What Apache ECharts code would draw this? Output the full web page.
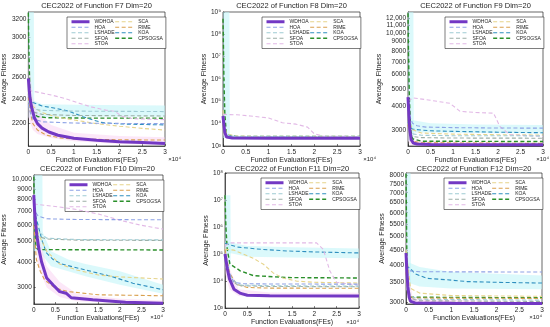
<!DOCTYPE html>
<html><head><meta charset="utf-8">
<script src="https://cdn.jsdelivr.net/npm/echarts@6/dist/echarts.min.js"></script>
<style>html,body{margin:0;padding:0;background:#fff}#c{width:550px;height:327px}</style>
</head><body><div id="c"></div>
<script>
// ---------------- data ----------------
const algorithms = ['WDHOA','HOA','LSHADE','SFOA','STOA','SCA','RIME','KOA','CPSOGSA'];
const titles = ['CEC2022 of Function F7 Dim=20','CEC2022 of Function F8 Dim=20','CEC2022 of Function F9 Dim=20',
                'CEC2022 of Function F10 Dim=20','CEC2022 of Function F11 Dim=20','CEC2022 of Function F12 Dim=20'];
const xTicks = [0,0.5,1,1.5,2,2.5,3];           // x in units of 1e4 FEs
const f7Ticks  = [2200,2400,2600,2800,3000,3200];
const f8Ticks  = [1e3,1e4,1e5,1e6,1e7,1e8,1e9];
const f9Ticks  = [3000,4000,5000,6000,7000,8000,9000,10000,11000,12000];
const f10Ticks = [3000,4000,5000,6000,7000,8000,9000,10000];
const f11Ticks = [1e3,1e4,1e5,1e6,1e7,1e8];
const f12Ticks = [3000,3500,4000,4500,5000,5500,6000,6500,7000,7500,8000];

const f7 = {
  WDHOA:  [[0,2590],[0.02,2480],[0.04,2400],[0.08,2320],[0.13,2250],[0.2,2200],[0.3,2165],[0.45,2135],[0.65,2110],[1,2088],[1.5,2072],[2,2062],[2.5,2055],[3,2048]],
  HOA:    [[0,2360],[0.05,2280],[0.1,2240],[0.3,2215],[1,2205],[2,2202],[3,2200]],
  LSHADE: [[0,2390],[0.05,2340],[0.1,2320],[0.3,2308],[1,2302],[3,2298]],
  SFOA:   [[0,2450],[0.05,2330],[0.1,2295],[0.3,2275],[1,2266],[3,2262]],
  STOA:   [[0,2480],[0.2,2465],[0.5,2440],[0.8,2410],[1.1,2370],[1.4,2335],[1.7,2310],[1.9,2300],[2.05,2260],[2.3,2240],[3,2232]],
  SCA:    [[0,2520],[0.05,2400],[0.1,2340],[0.3,2290],[0.6,2255],[1,2230],[1.5,2200],[2,2180],[2.5,2163],[3,2150]],
  RIME:   [[0,2420],[0.05,2280],[0.1,2200],[0.2,2150],[0.4,2110],[0.7,2090],[1,2082],[2,2076],[3,2074]],
  KOA:    [[0,2420],[0.1,2375],[0.3,2345],[0.6,2325],[0.9,2300],[1.2,2255],[1.6,2210],[2,2198],[3,2190]],
  CPSOGSA:[[0,3280],[0.01,2900],[0.03,2520],[0.06,2350],[0.1,2290],[0.2,2258],[0.4,2248],[1,2245],[3,2244]]
};
const f7Bands = [
  ['cyan', [[0,2250,3290],[0.12,2250,3290],[0.13,2300,2300]]],
  ['cyan', [[0.05,2240,2400],[0.3,2250,2360],[1,2255,2355],[3,2255,2350]]],
  ['pink', [[0,2250,2900],[0.05,2200,2600],[0.1,2150,2420],[0.2,2120,2290],[0.5,2090,2190],[1,2065,2130],[2,2045,2105],[3,2040,2095]]]
];

const f8 = {
  WDHOA:  [[0,22000],[0.02,9000],[0.04,4000],[0.08,2500],[0.2,2290],[1,2250],[3,2230]],
  HOA:    [[0,15000],[0.03,4500],[0.08,2700],[0.3,2500],[3,2460]],
  LSHADE: [[0,12000],[0.03,5000],[0.08,3000],[0.3,2600],[3,2520]],
  SFOA:   [[0,9000],[0.03,4000],[0.08,2700],[0.3,2450],[3,2400]],
  STOA:   [[0,26000],[0.3,25000],[0.6,22000],[1,18000],[1.3,11000],[1.6,9500],[1.85,7000],[2.0,3500],[2.2,2750],[3,2650]],
  SCA:    [[0,40000],[0.03,8000],[0.08,3500],[0.3,2750],[1,2600],[3,2550]],
  RIME:   [[0,10000],[0.03,3500],[0.08,2500],[0.3,2380],[3,2350]],
  KOA:    [[0,20000],[0.03,6000],[0.08,3200],[0.3,2650],[3,2580]],
  CPSOGSA:[[0,5e8],[0.01,3e7],[0.02,1e6],[0.04,3e4],[0.07,4000],[0.12,2800],[0.3,2700],[3,2680]]
};
const f8Bands = [
  ['cyan', [[0,2300,1e9],[0.14,2300,1e9],[0.15,2300,2300]]],
  ['pink', [[0,3000,60000],[0.03,2500,15000],[0.08,2250,3000],[0.3,2220,2350],[3,2200,2300]]]
];

const f9 = {
  WDHOA:  [[0,4500],[0.02,3600],[0.04,3000],[0.07,2650],[0.12,2540],[0.2,2510],[0.5,2495],[3,2490]],
  HOA:    [[0,3900],[0.05,3500],[0.1,3250],[0.2,3150],[0.4,3100],[1,3080],[2,3065],[3,3060]],
  LSHADE: [[0,3300],[0.05,2950],[0.1,2850],[0.3,2800],[1,2785],[3,2780]],
  SFOA:   [[0,3400],[0.05,2900],[0.1,2760],[0.3,2720],[1,2705],[3,2700]],
  STOA:   [[0,4300],[0.12,4460],[0.5,4330],[0.93,4170],[1.16,3770],[1.5,3720],[1.9,3690],[2.04,3130],[2.26,2820],[3,2760]],
  SCA:    [[0,3800],[0.05,3200],[0.1,3000],[0.3,2880],[1,2840],[2,2820],[3,2810]],
  RIME:   [[0,3200],[0.05,2750],[0.1,2600],[0.3,2550],[3,2530]],
  KOA:    [[0,3300],[0.05,3100],[0.1,3020],[0.5,2960],[1,2940],[2,2910],[3,2890]],
  CPSOGSA:[[0,12800],[0.01,8000],[0.03,4500],[0.06,3000],[0.1,2680],[0.3,2600],[3,2590]]
};
const f9Bands = [
  ['cyan', [[0,2600,13000],[0.12,2600,13000],[0.13,2700,2700]]],
  ['cyan', [[0.05,2900,3400],[0.5,2900,3250],[1.5,2880,3200],[3,2860,3180]]],
  ['pink', [[0,2600,5500],[0.05,2500,3400],[0.12,2470,2620],[3,2460,2530]]]
];

const f10 = {
  WDHOA:  [[0,8400],[0.02,7000],[0.04,6200],[0.07,5380],[0.12,4600],[0.18,4000],[0.3,3335],[0.45,3090],[0.6,2870],[0.75,2820],[0.87,2680],[1.37,2620],[2.13,2550],[3,2520]],
  HOA:    [[0,7400],[0.05,6900],[0.1,6650],[0.3,6450],[1,6400],[3,6380]],
  LSHADE: [[0,6800],[0.05,6000],[0.1,5600],[0.3,5200],[1,5120],[3,5100]],
  SFOA:   [[0,6300],[0.05,5600],[0.1,5300],[0.3,5150],[1,5090],[3,5070]],
  STOA:   [[0,7600],[0.5,7400],[1,7150],[1.5,6800],[2,6350],[2.5,6000],[3,5750]],
  SCA:    [[0,7000],[0.1,5500],[0.3,4500],[0.6,3900],[1,3650],[1.5,3450],[2,3380],[3,3300]],
  RIME:   [[0,6000],[0.06,4100],[0.15,3600],[0.25,3270],[0.5,2980],[0.8,2870],[1.5,2770],[3,2740]],
  KOA:    [[0,7200],[0.1,6000],[0.2,5000],[0.3,4400],[0.45,4100],[0.65,3900],[1.2,3650],[1.8,3400],[2.3,3150],[3,2930]],
  CPSOGSA:[[0,10300],[0.02,6000],[0.05,4700],[0.1,4580],[3,4560]]
};
const f10Bands = [
  ['cyan', [[0,4500,10500],[0.2,4500,10500],[0.21,4600,4600]]],
  ['cyan', [[0.2,4300,5600],[0.4,3800,4500],[0.8,3600,4100],[1.2,3400,3900],[2,3100,3600],[3,2800,3100]]],
  ['pink', [[0,6500,9000],[0.1,3800,5500],[0.3,3000,3800],[0.6,2700,3200],[1,2580,2800],[2,2520,2650],[3,2500,2600]]]
];

const f11 = {
  WDHOA:  [[0,1e5],[0.05,3e4],[0.1,1.2e4],[0.2,5000],[0.35,3500],[0.5,3000],[1,2850],[3,2800]],
  HOA:    [[0,1e5],[0.1,2e4],[0.2,9000],[0.4,8000],[1,7800],[3,7700]],
  LSHADE: [[0,8e4],[0.1,1.6e4],[0.3,7200],[1,6700],[3,6500]],
  SFOA:   [[0,6e4],[0.1,1.2e4],[0.3,6800],[1,6300],[3,6200]],
  STOA:   [[0,2e5],[0.1,2.6e5],[1,2.6e5],[2.05,2.6e5],[2.2,1.5e5],[2.35,2.3e4],[2.5,9000],[3,7000]],
  SCA:    [[0,1.5e5],[0.2,1.4e5],[0.35,1.1e5],[0.63,7e4],[0.86,4.2e4],[1.08,2e4],[1.3,1.3e4],[1.6,1e4],[2,9000],[3,8500]],
  RIME:   [[0,1.5e5],[0.1,2e4],[0.26,7600],[0.5,5800],[1,5500],[3,5400]],
  KOA:    [[0,2.5e5],[0.1,2.2e5],[0.3,1.8e5],[0.8,1.5e5],[1.4,1.3e5],[2,1.2e5],[3,1.1e5]],
  CPSOGSA:[[0,1.5e7],[0.02,1e6],[0.05,1.5e5],[0.11,4.3e4],[0.34,2.4e4],[0.63,1.6e4],[1.4,1.35e4],[3,1.3e4]]
};
const f11Bands = [
  ['cyan', [[0,3e4,1.5e7],[0.12,3e4,1.5e7],[0.13,1e5,1e5]]],
  ['cyan', [[0,1.2e5,3e5],[0.5,8e4,2e5],[1.5,7.5e4,1.8e5],[3,7e4,1.6e5]]],
  ['pink', [[0,2e4,3e5],[0.1,5000,3e4],[0.3,2800,5000],[1,2400,3800],[3,2400,3700]]]
];

const f12 = {
  WDHOA:  [[0,4400],[0.02,3800],[0.04,3400],[0.07,3130],[0.1,3030],[0.2,2995],[1,2985],[3,2980]],
  HOA:    [[0,4000],[0.05,3900],[0.1,3830],[0.3,3810],[1,3805],[3,3800]],
  LSHADE: [[0,4200],[0.05,3400],[0.1,3150],[0.3,3080],[3,3060]],
  SFOA:   [[0,4100],[0.05,3300],[0.1,3100],[0.3,3045],[3,3030]],
  STOA:   [[0,3900],[0.05,3300],[0.1,3080],[0.3,3020],[3,3005]],
  SCA:    [[0,4500],[0.1,3350],[0.3,3230],[1,3170],[3,3150]],
  RIME:   [[0,3800],[0.05,3200],[0.15,3110],[3,3100]],
  KOA:    [[0,4000],[0.1,3900],[0.2,3750],[0.46,3620],[1,3570],[1.35,3530],[2,3510],[3,3490]],
  CPSOGSA:[[0,8100],[0.02,4200],[0.05,3250],[0.1,3130],[3,3115]]
};
const f12Bands = [
  ['cyan', [[0,3300,8150],[0.1,3300,8150],[0.11,3500,3500]]],
  ['cyan', [[0.05,3500,4100],[0.3,3400,3950],[1,3350,3800],[3,3330,3700]]],
  ['pink', [[0,3400,5500],[0.05,3050,3800],[0.15,2985,3100],[3,2975,3000]]]
];

// ---------------- styling / layout ----------------
const styles = {
  WDHOA:  {color:'#7338C4', width:3,   type:'solid'},
  HOA:    {color:'#8DA2E6', width:1.1, type:[4,2.5]},
  LSHADE: {color:'#9FCBD3', width:1.1, type:[4,2.5]},
  SFOA:   {color:'#9DAFA6', width:1.1, type:[4,2.5]},
  STOA:   {color:'#E2B9E6', width:1.1, type:[4,2.5]},
  SCA:    {color:'#E6D48A', width:1.1, type:[4,2.5]},
  RIME:   {color:'#D9A04E', width:1.1, type:[4,2.5]},
  KOA:    {color:'#2F8FBF', width:1.1, type:[4,2.5]},
  CPSOGSA:{color:'#2A8F2A', width:1.4, type:[4,2.5]}
};
const bandColors = {cyan:'rgba(190,244,247,0.55)', pink:'rgba(248,202,240,0.45)'};
const FONT = '"Liberation Sans", Arial, Helvetica, sans-serif';
const TXT = '#262626';

const panels = [
  {data:f7,  bands:f7Bands,  ticks:f7Ticks,  range:[2030,3290], fmt:'plain', g:{left:28, top:12, width:137, height:134}, yGap:14},
  {data:f8,  bands:f8Bands,  ticks:f8Ticks,  range:[1e3,1e9],   fmt:'pow',   g:{left:223,top:12, width:137, height:134}, yGap:11},
  {data:f9,  bands:f9Bands,  ticks:f9Ticks,  range:[2450,13000],fmt:'plain', g:{left:408,top:12, width:135, height:134}, yGap:18},
  {data:f10, bands:f10Bands, ticks:f10Ticks, range:[2500,10500],fmt:'plain', g:{left:32, top:175,width:131, height:129}, yGap:18},
  {data:f11, bands:f11Bands, ticks:f11Ticks, range:[1e3,1e8],   fmt:'pow',   g:{left:225,top:173,width:134, height:136}, yGap:12},
  {data:f12, bands:f12Bands, ticks:f12Ticks, range:[2970,8150], fmt:'plain', g:{left:406,top:173,width:136, height:131}, yGap:16}
];

const L = Math.log10;
const SUP = {'0':'\u2070','1':'\u00b9','2':'\u00b2','3':'\u00b3','4':'\u2074','5':'\u2075','6':'\u2076','7':'\u2077','8':'\u2078','9':'\u2079'};
function fmtTick(v, kind){
  const val = Math.pow(10, v);
  if (kind === 'pow') return '10' + SUP[String(Math.round(v))];
  const r = Math.round(val/100)*100;
  return r >= 10000 ? r.toString().replace(/\B(?=(\d{3})+(?!\d))/g, ',') : String(r);
}

const grid = [], xAxis = [], yAxis = [], series = [], legend = [], title = [];
panels.forEach((p, i) => {
  const g = p.g, top = i < 3;
  grid.push({left:g.left, top:g.top, width:g.width, height:g.height, show:true, borderColor:TXT, borderWidth:0.7, backgroundColor:'#fff'});
  xAxis.push({gridIndex:i, type:'value', min:0, max:3, interval:0.5,
    axisLine:{onZero:false, lineStyle:{color:TXT, width:0.7}},
    axisTick:{inside:true, length:2, lineStyle:{color:TXT, width:0.6}},
    splitLine:{show:false},
    axisLabel:{fontSize:6.5, color:TXT, margin:3, fontFamily:FONT},
    name:'Function Evaluations(FEs)', nameLocation:'middle', nameGap: top ? 10 : 9,
    nameTextStyle:{fontSize:7, color:TXT, fontFamily:FONT}});
  const tl = p.ticks.map(L);
  yAxis.push({gridIndex:i, type:'value', min:L(p.range[0]), max:L(p.range[1]),
    axisLine:{show:true, lineStyle:{color:TXT, width:0.7}},
    axisTick:{show:true, inside:true, length:2, customValues:tl, lineStyle:{color:TXT, width:0.6}},
    splitLine:{show:false},
    axisLabel:{customValues:tl, fontSize:6.5, color:TXT, margin:2, fontFamily:FONT, formatter:(v)=>fmtTick(v, p.fmt)},
    name:'Average Fitness', nameLocation:'middle', nameGap:p.yGap,
    nameTextStyle:{fontSize:7, color:TXT, fontFamily:FONT}});
  // std bands: lower edge + stacked thickness (value dim first so the y value is the stacked one)
  p.bands.forEach((b, j) => {
    const st = 'band' + i + '_' + j;
    series.push({type:'line', name:'_b', xAxisIndex:i, yAxisIndex:i, stack:st, symbol:'none', silent:true, z:1,
      encode:{x:1, y:0}, lineStyle:{opacity:0, width:0}, data:b[1].map(q => [L(q[1]), q[0]])});
    series.push({type:'line', name:'_b', xAxisIndex:i, yAxisIndex:i, stack:st, symbol:'none', silent:true, z:1,
      encode:{x:1, y:0}, lineStyle:{opacity:0, width:0}, areaStyle:{color:bandColors[b[0]], opacity:1},
      data:b[1].map(q => [L(q[2]) - L(q[1]), q[0]])});
  });
  // lines (WDHOA drawn last = on top)
  algorithms.slice().reverse().forEach((a, k) => {
    const s = styles[a];
    series.push({type:'line', name:a, xAxisIndex:i, yAxisIndex:i, symbol:'none', silent:true, z:3 + k,
      lineStyle:{color:s.color, width:s.width, type:s.type}, itemStyle:{color:s.color},
      data:p.data[a].map(q => [q[0], L(q[1])])});
  });
  const right = g.left + g.width;
  legend.push({data:algorithms, orient:'vertical', left:right - 98, top:g.top + 5, height:28,
    itemWidth:18, itemHeight:5, itemGap:0, padding:[2,3,2,3],
    backgroundColor:'#fff', borderColor:TXT, borderWidth:0.6, selectedMode:false,
    itemStyle:{opacity:0, borderWidth:0},
    textStyle:{fontSize:5, lineHeight:5.5, color:TXT, fontFamily:FONT},
    lineStyle:{width:'inherit'}});
  title.push({text:titles[i], left:g.left + g.width/2, top: top ? 2 : 165, textAlign:'center', padding:0,
    textStyle:{fontSize:7.5, fontWeight:'normal', color:TXT, fontFamily:FONT}});
  title.push({text:'\u00d710\u2074', left: top ? Math.min(right + 16, 549) : right, top: g.top + g.height + 10,
    textAlign:'right', padding:0,
    textStyle:{fontSize:6, fontWeight:'normal', color:TXT, fontFamily:FONT}});
});

const chart = echarts.init(document.getElementById('c'), null, {renderer:'canvas'});
chart.setOption({animation:false, backgroundColor:'#fff', textStyle:{fontFamily:FONT},
  title, grid, xAxis, yAxis, legend, series});
</script>
</body></html>
